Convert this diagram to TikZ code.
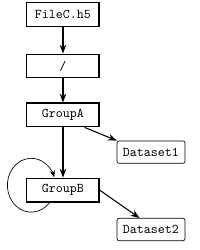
\documentclass[tikz,border=0pt]{standalone}
\usepackage{tikz}
\usetikzlibrary{arrows.meta, positioning}
\tikzstyle{grp} = [draw=black, line width=0.8pt, minimum width=1.9cm, minimum height=0.63cm, font=\ttfamily]
\tikzstyle{dset} = [draw=black, line width=0.5pt, rounded corners=1.5pt, minimum width=1.79cm, minimum height=0.59cm, font=\ttfamily]
\tikzstyle{arrow} = [line width=0.8pt,->]
\tikzstyle{selfloop} = [line width=0.5pt,->]

\begin{document}
\begin{tikzpicture}[>=Stealth]
\useasboundingbox (0,0) rectangle (5.27,6.59);

\node[grp] (fileC) at (1.66,6.2) {FileC.h5};
\node[grp] (root) at (1.66,4.85) {/};
\node[grp] (groupA) at (1.66,3.56) {GroupA};
\node[grp] (groupB) at (1.66,1.58) {GroupB};
\node[dset] (dataset1) at (3.98,2.58) {Dataset1};
\node[dset] (dataset2) at (3.98,0.54) {Dataset2};

\draw[arrow] (fileC) -- (root);
\draw[arrow] (root) -- (groupA);
\draw[arrow] (groupA) -- (groupB);
\draw[arrow] (groupA.-30) -- (dataset1.north west);
\draw[arrow] (groupB.east) -- (dataset2.135);
% loop back onto GroupB
\draw[selfloop] (groupB.-137) arc[start angle=-40, end angle=-343, x radius=0.63cm, y radius=0.71cm];
\end{tikzpicture}
\end{document}
